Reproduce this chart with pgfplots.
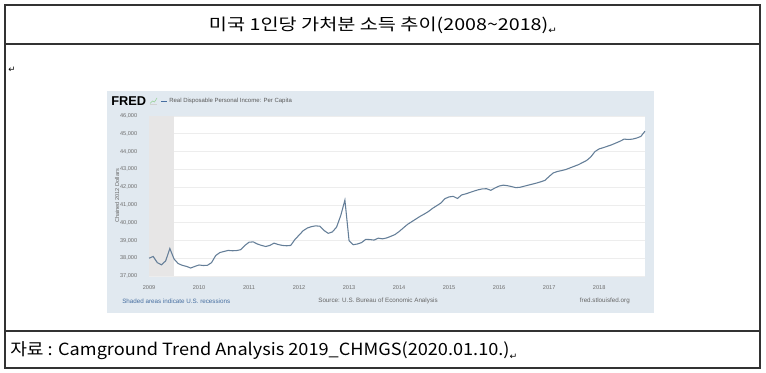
\documentclass[border=0pt]{standalone}
\usepackage{fontspec}
\usepackage{pgfplots}
\pgfplotsset{compat=1.18}
\setmainfont{Liberation Sans}
\newfontfamily\kr{Noto Sans CJK KR}
\newfontfamily\dv{DejaVu Sans}
\definecolor{fredbg}{RGB}{225,233,240}
\definecolor{shade}{RGB}{231,230,230}
\definecolor{fredline}{RGB}{100,126,152}
\definecolor{fredblue}{RGB}{70,110,160}
\definecolor{tickgray}{RGB}{110,110,110}
\definecolor{border}{RGB}{50,50,50}
\newcommand{\ret}{\raisebox{-2.5pt}{\dv\fontsize{6.5}{7}\selectfont ↵}}
\begin{document}
\begin{tikzpicture}[x=0.75pt,y=0.75pt]
\path (0,0) rectangle (766,372);
% table frame
\draw[border, line width=1.1pt] (5,4) rectangle (760,367);
\draw[border, line width=1.5pt] (5,328) -- (760,328);
\draw[border, line width=1.5pt] (5,41) -- (760,41);
% title
\node[inner sep=0pt] at (383,347) {\scalebox{1.2}[1]{\kr\fontsize{12.3}{14}\selectfont 미국 1인당 가처분 소득 추이(2008\textasciitilde2018)\ret}};
\node[inner sep=0pt, anchor=west] at (8,302) {\ret};
% source row
\node[inner sep=0pt, anchor=west] at (10,21) {\scalebox{1.08}[1]{\kr\fontsize{12.6}{14}\selectfont 자료 : Camground Trend Analysis 2019\_CHMGS(2020.01.10.)\ret}};
% FRED panel
\fill[fredbg] (107,59) rectangle (654,281);
\node[inner sep=0pt, anchor=west] at (111,271) {\fontsize{9.6}{10}\selectfont\bfseries FRED};
\fill[gray!35] (150,267) rectangle (157,268);
\draw[green!40!gray!60, line width=0.4pt] (150,268.5) -- (152.5,271) -- (154.5,270) -- (157,274);
\draw[fredblue, line width=0.6pt] (161,271) -- (167,271);
\node[inner sep=0pt, anchor=west, text=gray!70!black] at (169,271) {\fontsize{4.5}{5}\selectfont Real Disposable Personal Income: Per Capita};
\node[inner sep=0pt, rotate=90, text=gray!80!black] at (117,176) {\fontsize{4.2}{5}\selectfont Chained 2012 Dollars};
\node[inner sep=0pt, anchor=west, text=fredblue] at (122,71) {\fontsize{4.7}{5}\selectfont Shaded areas indicate U.S. recessions};
\node[inner sep=0pt, text=gray!80!black] at (378,71) {\fontsize{4.7}{5}\selectfont Source: U.S. Bureau of Economic Analysis};
\node[inner sep=0pt, anchor=east, text=gray!80!black] at (630,71) {\fontsize{4.7}{5}\selectfont fred.stlouisfed.org};
\begin{axis}[
  at={(111.75pt,72pt)}, anchor=south west,
  width=372pt, height=120pt, scale only axis,
  xmin=0, xmax=119, ymin=37000, ymax=46000,
  axis line style={draw=none}, tick style={draw=none},
  xtick={0,12,...,108},
  xticklabels={2009,2010,2011,2012,2013,2014,2015,2016,2017,2018},
  ytick={37000,38000,...,46000},
  scaled y ticks=false,
  /pgf/number format/assume math mode=true,
  /pgf/number format/1000 sep={,},
  ymajorgrids, grid style={gray!14, line width=0.45pt},
  axis background/.style={fill=white},
  tick label style={font=\fontsize{4.2}{5}\selectfont, text=tickgray},
  xticklabel style={yshift=-3.8pt},
  yticklabel style={xshift=-5.3pt},
  clip=false,
]
\addplot[fill=shade, draw=none] coordinates {(0,37000)(0,46000)(6,46000)(6,37000)} -- cycle;
\addplot[fredline, line width=0.8pt, mark=none] coordinates {
(0,38000)(1,38100)(2,37750)(3,37630)(4,37850)(5,38550)(6,37960)(7,37700)(8,37600)(9,37540)(10,37450)(11,37540)
(12,37620)(13,37590)(14,37600)(15,37750)(16,38150)(17,38320)(18,38380)(19,38440)(20,38420)(21,38430)(22,38480)(23,38720)
(24,38900)(25,38920)(26,38800)(27,38720)(28,38660)(29,38720)(30,38850)(31,38770)(32,38720)(33,38700)(34,38720)(35,39050)
(36,39300)(37,39550)(38,39700)(39,39780)(40,39820)(41,39800)(42,39560)(43,39400)(44,39480)(45,39750)(46,40400)(47,41270)
(48,38980)(49,38760)(50,38800)(51,38880)(52,39060)(53,39050)(54,39020)(55,39130)(56,39090)(57,39140)(58,39230)(59,39330)
(60,39500)(61,39700)(62,39900)(63,40050)(64,40200)(65,40350)(66,40480)(67,40620)(68,40800)(69,40950)(70,41100)(71,41350)
(72,41450)(73,41480)(74,41360)(75,41560)(76,41620)(77,41700)(78,41780)(79,41850)(80,41900)(81,41910)(82,41820)(83,41950)
(84,42060)(85,42110)(86,42080)(87,42030)(88,41970)(89,41990)(90,42050)(91,42110)(92,42170)(93,42230)(94,42300)(95,42380)
(96,42600)(97,42800)(98,42880)(99,42930)(100,42990)(101,43080)(102,43170)(103,43260)(104,43380)(105,43500)(106,43700)(107,44000)
(108,44150)(109,44220)(110,44300)(111,44380)(112,44480)(113,44580)(114,44700)(115,44680)(116,44700)(117,44760)(118,44850)(119,45150)
};
\end{axis}
\end{tikzpicture}
\end{document}
